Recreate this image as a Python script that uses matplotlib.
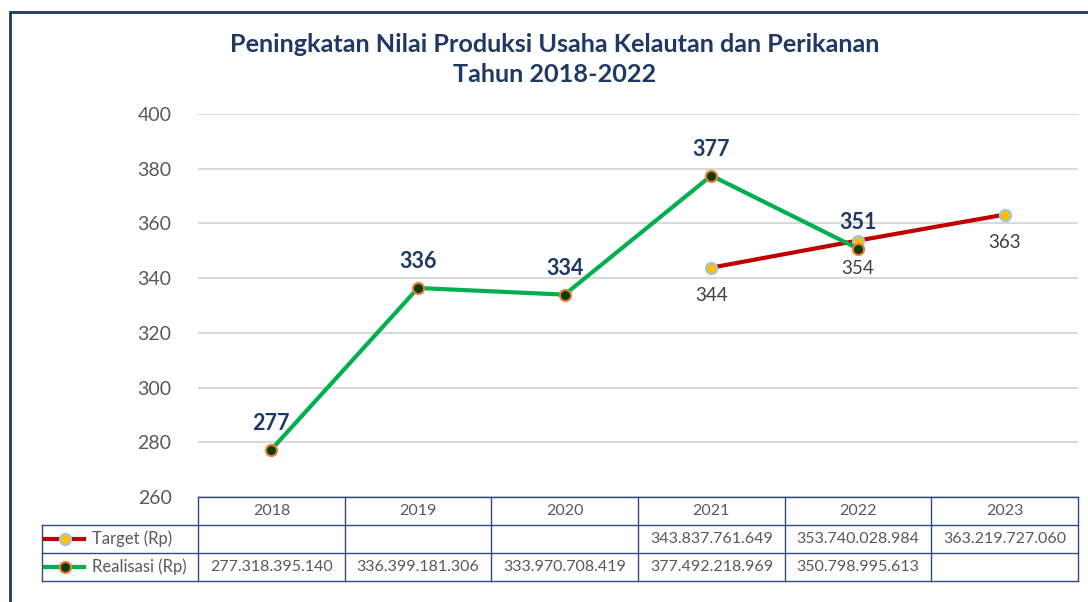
import matplotlib
matplotlib.use("Agg")
import matplotlib.pyplot as plt
import numpy as np
from matplotlib.lines import Line2D
from matplotlib.patches import Rectangle
from matplotlib.transforms import blended_transform_factory

# data (miliar rupiah)
years = ["2018", "2019", "2020", "2021", "2022", "2023"]
target = [np.nan, np.nan, np.nan, 343.837761649, 353.740028984, 363.219727060]
realisasi = [277.318395140, 336.399181306, 333.970708419, 377.492218969, 350.798995613, np.nan]
target_text = ["", "", "", "343.837.761.649", "353.740.028.984", "363.219.727.060"]
realisasi_text = ["277.318.395.140", "336.399.181.306", "333.970.708.419",
                  "377.492.218.969", "350.798.995.613", ""]
row_labels = ["Target (Rp)", "Realisasi (Rp)"]

NAVY = "#1F3864"
GREY = "#595959"
RED = "#C00000"
GREEN = "#00B050"

plt.rcParams["font.family"] = ["Lato", "DejaVu Sans"]

fig = plt.figure(figsize=(10.88, 6.02), dpi=100)
ax = fig.add_axes([198 / 1088, 1 - 497 / 602, 880 / 1088, 383 / 602])

x = np.arange(len(years))
ax.plot(x, target, color=RED, lw=3, marker="o", ms=8, mfc="#FFC000",
        mec="#9DC3E6", mew=1.5, zorder=3)
ax.plot(x, realisasi, color=GREEN, lw=3, marker="o", ms=8, mfc="#0B3D0B",
        mec="#ED7D31", mew=1.5, zorder=4)

for xi, v in zip(x, realisasi):
    if not np.isnan(v):
        ax.annotate(f"{v:.0f}", (xi, v), xytext=(0, 19), textcoords="offset points",
                    ha="center", va="center", fontsize=15.5, fontweight="bold", color=NAVY)
for xi, v in zip(x, target):
    if not np.isnan(v):
        ax.annotate(f"{v:.0f}", (xi, v), xytext=(0, -20), textcoords="offset points",
                    ha="center", va="center", fontsize=13.5, color="#404040")

ax.set_xlim(-0.5, len(years) - 0.5)
ax.set_ylim(260, 400)
ax.set_yticks(np.arange(260, 401, 20))
ax.tick_params(axis="y", length=0, pad=19, labelsize=14, labelcolor=GREY)
ax.set_xticks([])
ax.grid(axis="y", color="#D9D9D9", lw=1.5)
ax.set_axisbelow(True)
for s in ax.spines.values():
    s.set_visible(False)

# data table under the plot
trans = blended_transform_factory(ax.transData, ax.transAxes)
h = 28 / 383
col_px = 880 / len(years)
left = -0.5 - 156 / col_px
right = len(years) - 0.5
tkw = dict(color="#2F4A7F", lw=1, transform=trans, clip_on=False)

ax.add_line(Line2D([-0.5, right], [0, 0], **tkw))
for k in (1, 2, 3):
    ax.add_line(Line2D([left, right], [-k * h, -k * h], **tkw))
for i in range(len(years) + 1):
    ax.add_line(Line2D([i - 0.5, i - 0.5], [0, -3 * h], **tkw))
ax.add_line(Line2D([left, left], [-h, -3 * h], **tkw))

for i, yr in enumerate(years):
    ax.text(i, -0.5 * h, yr, transform=trans, ha="center", va="center",
            fontsize=11.5, color=GREY)
    ax.text(i, -1.5 * h, target_text[i], transform=trans, ha="center", va="center",
            fontsize=11.5, color=GREY)
    ax.text(i, -2.5 * h, realisasi_text[i], transform=trans, ha="center", va="center",
            fontsize=11.5, color=GREY)

styles = [(RED, "#FFC000", "#9DC3E6"), (GREEN, "#0B3D0B", "#ED7D31")]
for r, (lab, (lc, fc, ec)) in enumerate(zip(row_labels, styles)):
    yc = -(1.5 + r) * h
    x0 = left + 3 / col_px
    x1 = left + 42 / col_px
    ax.add_line(Line2D([x0, x1], [yc, yc], color=lc, lw=3, transform=trans, clip_on=False))
    ax.add_line(Line2D([(x0 + x1) / 2], [yc], marker="o", ms=8, mfc=fc, mec=ec, mew=1.5,
                       transform=trans, clip_on=False))
    ax.text(left + 50 / col_px, yc, lab, transform=trans, ha="left", va="center",
            fontsize=12, color=GREY)

fig.text(555 / 1088, 1 - 45 / 602, "Peningkatan Nilai Produksi Usaha Kelautan dan Perikanan",
         ha="center", va="center", fontsize=18.2, fontweight="bold", color=NAVY)
fig.text(555 / 1088, 1 - 75 / 602, "Tahun 2018-2022",
         ha="center", va="center", fontsize=18.2, fontweight="bold", color=NAVY)

# chart frame
fig.add_artist(Rectangle((10 / 1088, -0.2), 1.2, 1.2 - 12 / 602,
                         transform=fig.transFigure, fill=False, ec=NAVY, lw=2))

fig.savefig("out.png", dpi=100)
